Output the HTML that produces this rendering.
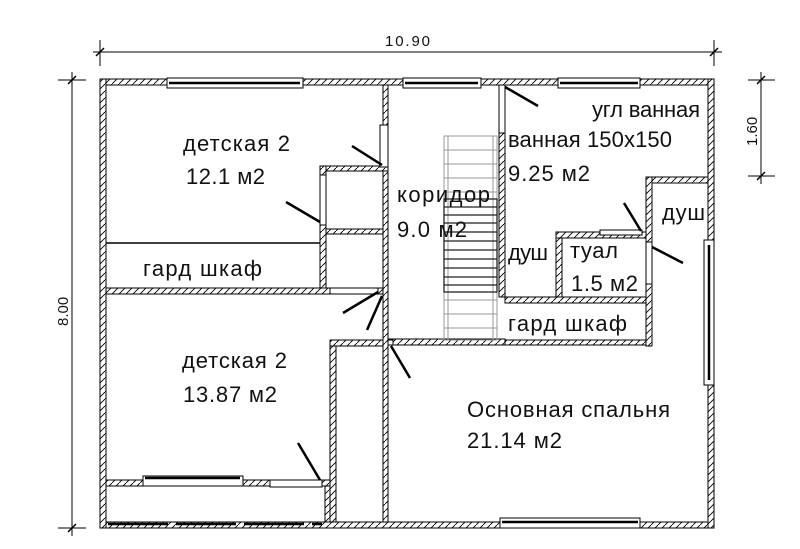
<!DOCTYPE html>
<html><head><meta charset="utf-8"><style>
html,body{margin:0;padding:0;background:#fff}
svg{display:block}
text{font-family:"Liberation Sans",Arial,sans-serif;font-size:22px;fill:#111}
</style></head><body>
<svg width="800" height="549" viewBox="0 0 800 549" xmlns="http://www.w3.org/2000/svg">
<defs>
<pattern id="h" width="7" height="7" patternUnits="userSpaceOnUse">
<rect width="7" height="7" fill="#fff"/>
<line x1="0" y1="7" x2="7" y2="0" stroke="#000" stroke-width="0.9"/>
</pattern>
</defs>
<!-- dimensions -->
<g stroke="#000" stroke-width="1">
<line x1="93" y1="52" x2="722" y2="52"/>
<line x1="100" y1="40" x2="100" y2="66"/>
<line x1="714" y1="40" x2="714" y2="66"/>
<line x1="72" y1="72" x2="72" y2="536"/>
<line x1="58" y1="80" x2="86" y2="80"/>
<line x1="58" y1="528" x2="86" y2="528"/>
<line x1="761" y1="72" x2="761" y2="184"/>
<line x1="748" y1="80" x2="775" y2="80"/>
<line x1="748" y1="176" x2="775" y2="176"/>
</g>
<g stroke="#000" stroke-width="1.5">
<line x1="96" y1="56" x2="104" y2="48"/><line x1="710" y1="56" x2="718" y2="48"/>
<line x1="68" y1="84" x2="76" y2="76"/><line x1="68" y1="532" x2="76" y2="524"/>
<line x1="757" y1="84" x2="765" y2="76"/><line x1="757" y1="180" x2="765" y2="172"/>
</g>
<text x="385" y="46" style="font-size:15px" textLength="45" lengthAdjust="spacing">10.90</text>
<text transform="translate(68,326) rotate(-90)" style="font-size:15px">8.00</text>
<text transform="translate(757,146) rotate(-90)" style="font-size:15px">1.60</text>

<!-- walls -->
<g fill="url(#h)" stroke="#000" stroke-width="1">
<rect x="100" y="79" width="614" height="6"/>
<rect x="100" y="522" width="614" height="6"/>
<rect x="100" y="79" width="6" height="449"/>
<rect x="708" y="79" width="6" height="449"/>
<rect x="383" y="85" width="5" height="437"/>
<rect x="499" y="85" width="6" height="212"/>
<rect x="320" y="166" width="68" height="5"/>
<rect x="320" y="166" width="6" height="126"/>
<rect x="326" y="229" width="57" height="5"/>
<rect x="106" y="288" width="277" height="6"/>
<rect x="330" y="340" width="6" height="182"/>
<rect x="330" y="340" width="53" height="6"/>
<rect x="388" y="339" width="117" height="6"/>
<rect x="106" y="480" width="224" height="6"/>
<rect x="325" y="486" width="5" height="36"/>
<rect x="646" y="177" width="62" height="6"/>
<rect x="646" y="177" width="6" height="169"/>
<rect x="556" y="232" width="90" height="6"/>
<rect x="556" y="238" width="6" height="59"/>
<rect x="505" y="297" width="141" height="6"/>
<rect x="505" y="340" width="141" height="5"/>
</g>
<line x1="106" y1="243" x2="320" y2="243" stroke="#000" stroke-width="1.5"/>

<!-- stairs -->
<g stroke="#999" stroke-width="1" fill="none">
<rect x="444" y="136" width="53" height="204"/>
<line x1="448" y1="136" x2="448" y2="340"/>
<line x1="493" y1="136" x2="493" y2="340"/>
</g>
<g stroke="#999" stroke-width="1">
<line x1="444" y1="150" x2="497" y2="150"/><line x1="444" y1="164" x2="497" y2="164"/>
<line x1="444" y1="178" x2="497" y2="178"/><line x1="444" y1="192" x2="497" y2="192"/>
<line x1="444" y1="300" x2="497" y2="300"/><line x1="444" y1="314" x2="497" y2="314"/>
<line x1="444" y1="328" x2="497" y2="328"/>
</g>
<g stroke="#222" stroke-width="1.3">
<rect x="444" y="199" width="53" height="93" fill="none"/>
<line x1="444" y1="207" x2="497" y2="207"/><line x1="444" y1="215" x2="497" y2="215"/>
<line x1="444" y1="223" x2="497" y2="223"/><line x1="444" y1="232" x2="497" y2="232"/>
<line x1="444" y1="241" x2="497" y2="241"/><line x1="444" y1="250" x2="497" y2="250"/>
<line x1="444" y1="259" x2="497" y2="259"/><line x1="444" y1="268" x2="497" y2="268"/>
<line x1="444" y1="277" x2="497" y2="277"/><line x1="444" y1="285" x2="497" y2="285"/>
</g>

<!-- windows -->
<g fill="#fff" stroke="#000" stroke-width="1">
<rect x="167" y="78" width="136" height="10"/>
<rect x="403" y="78" width="78" height="10"/>
<rect x="558" y="78" width="82" height="10"/>
<rect x="500" y="518" width="140" height="10"/>
<rect x="143" y="476" width="100" height="10"/>
<rect x="270" y="480" width="52" height="7"/>
<rect x="704" y="240" width="10" height="145"/>
<rect x="380" y="125" width="8" height="42"/>
<rect x="499" y="85" width="6" height="48"/>
<rect x="320" y="175" width="6" height="50"/>
<rect x="330" y="288" width="48" height="6"/>
<rect x="600" y="230" width="42" height="5"/>
<rect x="646" y="242" width="6" height="42"/>
<rect x="388" y="340" width="5" height="5"/>
</g>
<g stroke="#000" stroke-width="2.5">
<line x1="169" y1="83" x2="300" y2="83"/>
<line x1="405" y1="83" x2="478" y2="83"/>
<line x1="560" y1="83" x2="638" y2="83"/>
<line x1="502" y1="522" x2="638" y2="522"/>
<line x1="145" y1="478" x2="240" y2="478"/>
<line x1="709" y1="245" x2="709" y2="380"/>
<line x1="108" y1="524" x2="322" y2="524" stroke-dasharray="60 8"/>
</g>
<!-- door swings -->
<g stroke="#000" stroke-width="2.5">
<line x1="382" y1="165" x2="352" y2="146"/>
<line x1="320" y1="222" x2="286" y2="202"/>
<line x1="505" y1="87" x2="538" y2="106"/>
<line x1="641" y1="231" x2="624" y2="203"/>
<line x1="652" y1="247" x2="683" y2="263"/>
<line x1="378" y1="292" x2="343" y2="313"/>
<line x1="382" y1="296" x2="367" y2="330"/>
<line x1="391" y1="346" x2="410" y2="378"/>
<line x1="320" y1="480" x2="298" y2="443"/>
</g>

<!-- labels -->
<g lengthAdjust="spacing">
<text x="183" y="151" textLength="107" lengthAdjust="spacing">детская 2</text>
<text x="186" y="184" textLength="79" lengthAdjust="spacing">12.1 м2</text>
<text x="143" y="276" textLength="119" lengthAdjust="spacing">гард шкаф</text>
<text x="397" y="202" textLength="93" lengthAdjust="spacing">коридор</text>
<text x="397" y="237" textLength="70" lengthAdjust="spacing">9.0 м2</text>
<text x="592" y="117" textLength="108" lengthAdjust="spacing">угл ванная</text>
<text x="508" y="147" textLength="164" lengthAdjust="spacing">ванная 150х150</text>
<text x="508" y="181" textLength="82" lengthAdjust="spacing">9.25 м2</text>
<text x="662" y="220" textLength="43" lengthAdjust="spacing">душ</text>
<text x="508" y="260" textLength="40" lengthAdjust="spacing">душ</text>
<text x="570" y="258" textLength="48" lengthAdjust="spacing">туал</text>
<text x="571" y="291" textLength="67" lengthAdjust="spacing">1.5 м2</text>
<text x="508" y="331" textLength="119" lengthAdjust="spacing">гард шкаф</text>
<text x="182" y="368" textLength="105" lengthAdjust="spacing">детская 2</text>
<text x="183" y="402" textLength="94" lengthAdjust="spacing">13.87 м2</text>
<text x="467" y="417" textLength="203" lengthAdjust="spacing">Основная спальня</text>
<text x="467" y="448" textLength="95" lengthAdjust="spacing">21.14 м2</text>
</g>
</svg>
</body></html>
